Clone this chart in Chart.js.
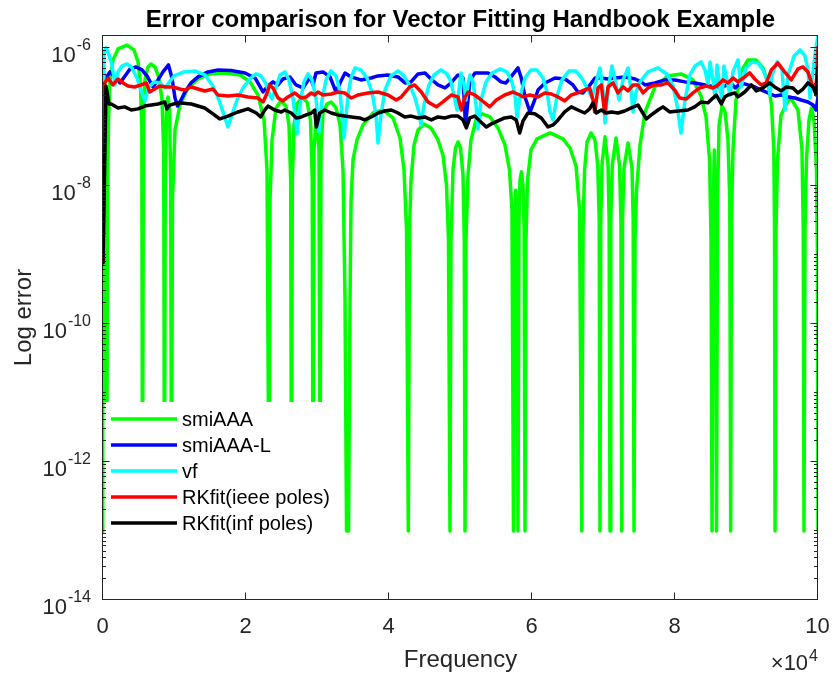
<!DOCTYPE html>
<html>
<head>
<meta charset="utf-8">
<title>Error comparison for Vector Fitting Handbook Example</title>
<script src="https://cdn.jsdelivr.net/npm/chart.js@4.4.1/dist/chart.umd.min.js"></script>
<style>
  body { margin: 0; background: #fff; }
  canvas { display: block; }
</style>
</head>
<body>
<canvas id="errors" width="833" height="674"></canvas>
<script>
// frequency (Hz) and error values, one pair of arrays per method
const smiFreq = [
  0, 100, 210, 320, 420, 520, 630, 770, 980, 1400, 2100, 3360, 4340, 4900, 5240, 5430, 5520,
  5660, 5870, 6290, 6710, 7270, 7830, 8250, 8490, 8600,
  8710, 8880, 9090, 9300, 9470, 9580,
  9720, 10070, 10770, 11890, 13290, 14960, 17060, 19160, 20560, 21680, 22520, 22940, 23220,
  23360, 23640, 24200, 24900, 25590, 26010, 26250, 26360,
  26480, 26710, 27130, 27830, 28530, 29020, 29270, 29370,
  29510, 29860, 30210, 30350,
  30490, 30770, 31330, 31890, 32590, 33150, 33570, 33850, 34060, 34340,
  34550, 34690, 34970, 35530, 36360, 37760, 39160, 40560, 41540, 42100, 42450, 42700,
  42870, 43080, 43500, 44060, 44890, 45870, 46850, 47550, 48040, 48320, 48530,
  48670, 48950, 49300, 49650, 50000, 50350, 50530, 50630,
  50770, 51050, 51470, 52170, 53010, 54130, 55240, 56220, 56850, 57200, 57410,
  57550, 57720, 57900, 58040,
  58180, 58320, 58530, 58740, 58900, 59020,
  59160, 59370, 59860, 60700, 62520, 64340, 65320, 66160, 66650, 66960,
  67140, 67350, 67700, 68260, 68810, 69190, 69400, 69510,
  69620, 69790, 70210, 70630, 70790, 70910,
  71020, 71230, 71750, 72240, 72440, 72550,
  72660, 72870, 73430, 73990, 74150, 74270,
  74410, 74620, 75110, 75810, 77200, 79020, 80840, 82520, 83640, 84340, 84830, 85040, 85180,
  85320, 85500, 85670, 85810,
  85950, 86160, 86580, 87000, 87410, 87660, 87790,
  87900, 88110, 88530, 89230, 90210, 91330, 92310, 93010, 93500, 93820, 93920, 93990,
  94130, 94340, 94830, 96080, 97200, 97760, 97940, 98040,
  98180, 98390, 98740, 99090, 99440, 99790, 99930, 100000
];
const smiErr = [
  1e-13, 6.3e-9, 1.26e-7, 2.63e-7, 1.26e-7, 1e-13, 6.3e-9, 9.05e-8, 3.44e-7, 6.7e-7, 9.67e-7, 1.1e-6, 9.35e-7, 6.27e-7, 2.91e-7, 6.48e-8, 1e-13,
  9.05e-8, 3.44e-7, 5.3e-7, 5.86e-7, 5.3e-7, 3.67e-7, 1.76e-7, 3.33e-8, 1e-13,
  1.22e-8, 1.26e-7, 1.95e-7, 1.35e-7, 1.22e-8, 1e-13,
  6.3e-9, 6.48e-8, 1.49e-7, 2.63e-7, 3.55e-7, 4.2e-7, 4.34e-7, 4.06e-7, 3.22e-7, 2.08e-7, 9.05e-8, 1.7e-8, 1e-13,
  6.3e-9, 4.64e-8, 1.35e-7, 1.71e-7, 1.44e-7, 7.66e-8, 1.22e-8, 1e-13,
  1.22e-8, 7.66e-8, 1.54e-7, 1.95e-7, 1.65e-7, 9.05e-8, 1.22e-8, 1e-13,
  3.33e-8, 1.07e-7, 3.33e-8, 1e-13,
  3.33e-8, 1.14e-7, 1.54e-7, 1.65e-7, 1.35e-7, 7.66e-8, 1.7e-8, 2.2e-10, 1e-13, 1e-13,
  2.2e-10, 6.3e-9, 2.4e-8, 4.64e-8, 7.66e-8, 1.14e-7, 1.26e-7, 9.67e-8, 4.96e-8, 1.7e-8, 2.3e-9, 1e-13,
  2.3e-9, 1.22e-8, 3.93e-8, 6.48e-8, 7.92e-8, 6.93e-8, 4.64e-8, 2.8e-8, 1.03e-8, 1.66e-9, 1e-13,
  1.66e-9, 1.7e-8, 3.55e-8, 4.34e-8, 3.55e-8, 1.44e-8, 1.66e-9, 1e-13,
  1.66e-9, 1.44e-8, 4.64e-8, 9.05e-8, 1.11e-7, 1.0e-7, 6.93e-8, 3.93e-8, 1.7e-8, 4.5e-9, 1e-13,
  2.3e-9, 8.7e-9, 2.3e-9, 1e-13,
  3.2e-9, 1.22e-8, 1.6e-8, 1.03e-8, 2.3e-9, 1e-13,
  1.66e-9, 1.22e-8, 3.33e-8, 4.8e-8, 5.86e-8, 4.8e-8, 3.55e-8, 1.95e-8, 4.5e-9, 1e-13,
  2.3e-9, 1.7e-8, 4.34e-8, 5.86e-8, 4.64e-8, 2.0e-8, 3.2e-9, 1e-13,
  3.2e-9, 2.0e-8, 5.15e-8, 2.0e-8, 3.2e-9, 1e-13,
  3.2e-9, 2.0e-8, 4.96e-8, 2.0e-8, 3.2e-9, 1e-13,
  3.2e-9, 1.82e-8, 4.2e-8, 1.82e-8, 3.2e-9, 1e-13,
  1.66e-9, 8.7e-9, 3.93e-8, 1.18e-7, 2.72e-7, 3.93e-7, 4.2e-7, 3.44e-7, 2.01e-7, 1.0e-7, 2.4e-8, 1.66e-9, 1e-13,
  3.2e-9, 3.33e-8, 3.2e-9, 1e-13,
  6.3e-9, 7.66e-8, 1.44e-7, 1.18e-7, 4.64e-8, 6.3e-9, 1e-13,
  3.2e-9, 3.33e-8, 1.76e-7, 4.49e-7, 6.7e-7, 6.7e-7, 5.13e-7, 3.11e-7, 1.49e-7, 3.33e-8, 2.3e-9, 1e-13,
  2.3e-9, 2.4e-8, 1.07e-7, 1.95e-7, 1.26e-7, 3.33e-8, 2.3e-9, 1e-13,
  2.3e-9, 2.4e-8, 9.05e-8, 1.35e-7, 9.05e-8, 1.7e-8, 8.5e-10, 1e-13
];

const smiLFreq = [
  0, 420, 980, 1680, 2380, 3080, 3780, 4620, 5450, 6150,
  6990, 7690, 8390, 9160, 9650, 10070, 10420, 10910, 11470, 12310,
  13290, 14690, 16080, 17900, 19860, 21260, 22380, 23080, 23780, 24480,
  25170, 26150, 26990, 27970, 28950, 29370, 29790, 30770, 31750, 32590,
  33150, 33850, 34680, 36080, 37480, 38460, 39860, 41260, 42240, 43080,
  44060, 45040, 45870, 46850, 47830, 48670, 49650, 50350, 50700, 51330,
  52030, 52870, 53850, 54830, 55660, 56360, 57060, 58040, 58460, 59020,
  59720, 60280, 60840, 61820, 63220, 64620, 65730, 66430, 67130, 68110,
  68810, 69650, 70630, 71610, 73010, 74410, 75250, 75810, 77200, 78600,
  80000, 81400, 82800, 84200, 85600, 87000, 87840, 88400, 89230, 90210,
  91190, 92030, 93010, 93990, 94830, 95810, 96790, 97630, 98610, 99310,
  99730, 100000
];
const smiLErr = [
  4.34e-7, 3.67e-7, 4.49e-7, 3.8e-7, 3.11e-7, 3.93e-7, 4.96e-7, 5.3e-7, 4.8e-7, 3.93e-7,
  2.72e-7, 3.44e-7, 4.49e-7, 5.67e-7, 3.67e-7, 1.88e-7, 1.44e-7, 1.76e-7, 2.3e-7, 3.11e-7,
  3.8e-7, 4.49e-7, 4.8e-7, 4.72e-7, 4.34e-7, 3.67e-7, 2.3e-7, 2.81e-7, 3.22e-7, 2.91e-7,
  3.55e-7, 3.8e-7, 2.91e-7, 2.63e-7, 3.8e-7, 2.91e-7, 4.34e-7, 4.49e-7, 3.8e-7, 2.3e-7,
  3.11e-7, 4.34e-7, 3.8e-7, 3.44e-7, 3.67e-7, 3.93e-7, 4.06e-7, 3.8e-7, 3.11e-7, 3.22e-7,
  4.2e-7, 4.34e-7, 3.55e-7, 2.91e-7, 2.63e-7, 3.11e-7, 4.06e-7, 3.67e-7, 7.66e-8, 3.44e-7,
  4.34e-7, 4.34e-7, 4.34e-7, 3.8e-7, 3.22e-7, 3.11e-7, 3.8e-7, 5.13e-7, 3.8e-7, 1.95e-7,
  1.18e-7, 1.65e-7, 2.46e-7, 3.11e-7, 3.67e-7, 3.55e-7, 2.91e-7, 2.3e-7, 2.23e-7, 2.91e-7,
  3.67e-7, 3.67e-7, 3.55e-7, 3.67e-7, 3.8e-7, 3.55e-7, 3.22e-7, 2.91e-7, 3.11e-7, 3.44e-7,
  3.44e-7, 3.22e-7, 3.11e-7, 2.91e-7, 2.72e-7, 2.81e-7, 3.11e-7, 2.63e-7, 3.11e-7, 2.91e-7,
  2.72e-7, 2.46e-7, 2.23e-7, 2.01e-7, 2.08e-7, 1.95e-7, 1.88e-7, 1.76e-7, 1.65e-7, 1.49e-7,
  1.26e-7, 1.95e-7
];

const vfFreq = [
  0, 140, 420, 840, 1260, 1680, 2100, 2660, 3360, 4060,
  4760, 5310, 5870, 6430, 7130, 7970, 8670, 9090, 9930, 11330,
  12870, 14270, 15380, 16220, 16920, 17480, 18040, 18740, 19580, 20700,
  21400, 22100, 22800, 23360, 23640, 24060, 24760, 25450, 26010, 26570,
  27130, 27690, 28110, 28670, 29230, 29790, 30210, 30630, 31190, 31890,
  32590, 33150, 33710, 34270, 34680, 35240, 36080, 36920, 37620, 38180,
  38460, 38880, 39440, 40280, 41260, 42100, 42940, 43640, 44200, 44480,
  44890, 45590, 46290, 47270, 48110, 48670, 49230, 49510, 49790, 50070,
  50490, 50770, 51050, 51330, 51750, 52170, 52450, 52870, 53570, 54410,
  55520, 56500, 57200, 57620, 57900, 58320, 59020, 59860, 60700, 61540,
  62100, 62520, 62940, 63500, 64190, 65170, 66150, 67130, 67830, 68390,
  68950, 69510, 69930, 70210, 70630, 71190, 71750, 72170, 72730, 73430,
  73850, 74130, 74550, 75110, 76220, 77620, 78880, 79720, 80280, 80840,
  81400, 82100, 82800, 83640, 84200, 84620, 84900, 85310, 85600, 85880,
  86290, 86570, 86850, 87270, 87690, 88110, 88810, 89230, 89930, 90770,
  91610, 92310, 92870, 93290, 93570, 94270, 94970, 95390, 95810, 96650,
  97480, 98180, 98600, 98880, 99160, 99580, 100000
];
const vfErr = [
  7.7e-10, 8.75e-7, 1.0e-6, 7.9e-7, 5.67e-7, 2.91e-7, 4.49e-7, 5.48e-7, 5.86e-7, 5.13e-7,
  3.67e-7, 2.46e-7, 1.71e-7, 2.72e-7, 3.22e-7, 3.11e-7, 2.63e-7, 3.01e-7, 3.93e-7, 4.49e-7,
  4.64e-7, 4.06e-7, 2.81e-7, 1.76e-7, 1.07e-7, 7.16e-8, 1.07e-7, 1.76e-7, 2.63e-7, 3.67e-7,
  4.2e-7, 3.93e-7, 3.01e-7, 2.01e-7, 1.82e-7, 2.46e-7, 4.06e-7, 4.49e-7, 3.44e-7, 1.88e-7,
  5.67e-8, 1.88e-7, 3.22e-7, 4.2e-7, 3.44e-7, 1.88e-7, 6.06e-8, 1.76e-7, 3.44e-7, 4.64e-7,
  3.93e-7, 2.3e-7, 4.96e-8, 2.08e-7, 3.67e-7, 5.13e-7, 4.8e-7, 3.67e-7, 2.3e-7, 1.07e-7,
  4.2e-8, 1.07e-7, 2.46e-7, 3.93e-7, 4.64e-7, 3.93e-7, 2.81e-7, 1.88e-7, 1.14e-7, 7.66e-8,
  1.49e-7, 2.91e-7, 4.06e-7, 4.8e-7, 4.2e-7, 3.22e-7, 1.76e-7, 1.26e-7, 2.46e-7, 4.34e-7,
  2.91e-7, 1.76e-7, 2.91e-7, 4.06e-7, 3.22e-7, 1.49e-7, 6.7e-8, 1.76e-7, 3.22e-7, 4.34e-7,
  4.96e-7, 4.49e-7, 3.22e-7, 2.08e-7, 9.67e-8, 1.95e-7, 3.67e-7, 4.8e-7, 4.8e-7, 3.67e-7,
  2.3e-7, 1.18e-7, 9.05e-8, 2.01e-7, 3.44e-7, 4.64e-7, 4.64e-7, 3.44e-7, 2.46e-7, 1.88e-7,
  3.22e-7, 5.13e-7, 2.46e-7, 8.19e-8, 2.46e-7, 5.48e-7, 2.91e-7, 1.76e-7, 3.44e-7, 5.13e-7,
  2.46e-7, 1.18e-7, 2.3e-7, 3.22e-7, 4.49e-7, 5.13e-7, 4.2e-7, 2.81e-7, 1.49e-7, 5.86e-8,
  1.76e-7, 4.06e-7, 5.48e-7, 6.27e-7, 4.8e-7, 2.91e-7, 6.27e-7, 3.44e-7, 1.88e-7, 5.67e-7,
  2.63e-7, 1.76e-7, 5.48e-7, 3.44e-7, 2.08e-7, 4.49e-7, 6.7e-7, 2.72e-7, 5.13e-7, 6.27e-7,
  6.06e-7, 4.8e-7, 3.44e-7, 2.08e-7, 4.06e-7, 6.27e-7, 4.8e-7, 1.26e-7, 4.06e-7, 7.66e-7,
  9.35e-7, 7.66e-7, 4.8e-7, 1.88e-7, 3.44e-7, 7.9e-7, 1.54e-6
];

const ieeeFreq = [
  0, 240, 700, 1400, 2100, 2800, 3500, 4430, 5360, 6060,
  6530, 7230, 7930, 8850, 9790, 10730, 11430, 12350, 13290, 14220,
  15380, 16080, 17480, 18880, 20280, 21680, 22380, 22840, 23310, 23780,
  24480, 25170, 25870, 26810, 27730, 28430, 29130, 29610, 30070, 30770,
  31930, 32870, 33800, 34730, 35660, 37060, 38460, 39860, 41020, 41720,
  42900, 43590, 44520, 45450, 46620, 47550, 48710, 49650, 50110, 50590,
  51050, 51990, 52910, 54080, 55010, 56180, 57340, 58280, 58740, 59680,
  60840, 61780, 62700, 63640, 64570, 65500, 66430, 67370, 68060, 68530,
  68770, 69230, 69690, 70170, 70630, 71330, 72030, 72730, 73430, 74130,
  74820, 75520, 76220, 77160, 78080, 79020, 79950, 80660, 81580, 82520,
  83450, 84380, 85310, 86010, 86710, 87410, 88110, 88810, 89750, 90450,
  91150, 92070, 92770, 93470, 94400, 95340, 96260, 97200, 97900, 98600,
  99300, 99760, 100000
];
const ieeeErr = [
  7.7e-10, 3.11e-7, 3.67e-7, 2.91e-7, 3.55e-7, 3.11e-7, 2.81e-7, 2.72e-7, 2.91e-7, 3.11e-7,
  2.3e-7, 2.54e-7, 2.81e-7, 2.72e-7, 2.72e-7, 2.54e-7, 2.46e-7, 2.72e-7, 2.54e-7, 2.38e-7,
  2.54e-7, 2.08e-7, 2.01e-7, 2.08e-7, 1.95e-7, 1.88e-7, 1.65e-7, 2.08e-7, 2.91e-7, 2.63e-7,
  1.88e-7, 1.71e-7, 1.95e-7, 2.23e-7, 1.88e-7, 1.95e-7, 2.23e-7, 2.08e-7, 2.3e-7, 2.08e-7,
  2.15e-7, 2.3e-7, 2.23e-7, 1.88e-7, 2.08e-7, 2.23e-7, 2.3e-7, 2.08e-7, 1.76e-7, 1.95e-7,
  2.72e-7, 2.91e-7, 2.3e-7, 1.65e-7, 1.4e-7, 1.65e-7, 2.08e-7, 1.95e-7, 1.26e-7, 1.88e-7,
  2.3e-7, 2.08e-7, 1.76e-7, 1.4e-7, 1.76e-7, 2.08e-7, 2.3e-7, 2.08e-7, 1.95e-7, 2.08e-7,
  1.95e-7, 2.23e-7, 2.15e-7, 1.95e-7, 1.71e-7, 2.08e-7, 2.23e-7, 2.46e-7, 2.63e-7, 1.76e-7,
  1.18e-7, 2.63e-7, 2.91e-7, 1.14e-7, 2.72e-7, 3.11e-7, 2.23e-7, 2.72e-7, 2.38e-7, 2.91e-7,
  2.91e-7, 2.23e-7, 2.63e-7, 2.91e-7, 2.91e-7, 3.11e-7, 2.46e-7, 1.88e-7, 1.82e-7, 2.23e-7,
  2.63e-7, 2.81e-7, 2.63e-7, 2.91e-7, 3.44e-7, 3.11e-7, 3.67e-7, 3.22e-7, 3.8e-7, 4.34e-7,
  3.55e-7, 2.91e-7, 3.11e-7, 4.8e-7, 6.06e-7, 4.49e-7, 3.44e-7, 4.96e-7, 5.3e-7, 4.49e-7,
  2.72e-7, 2.91e-7, 1.03e-6
];

const infFreq = [
  0, 420, 840, 1160, 2100, 3030, 3960, 4900, 5830, 6760,
  7690, 8630, 8950, 9330, 10490, 12350, 14220, 15380, 16320, 17480,
  18880, 20280, 21440, 22060, 22610, 23080, 24010, 24940, 25410, 26330,
  27030, 27730, 28430, 29130, 29610, 29830, 30310, 31010, 31930, 32870,
  33800, 34730, 35900, 36600, 37520, 38460, 39390, 40320, 41260, 42200,
  43120, 44060, 44990, 45920, 46850, 47790, 48710, 49650, 50350, 50810,
  51290, 51990, 52690, 53610, 54310, 55240, 56180, 57100, 57800, 58280,
  58740, 59440, 60380, 61300, 62240, 62940, 63640, 64570, 65500, 66430,
  67370, 68060, 68530, 68990, 69690, 70390, 71090, 72030, 72960, 73890,
  74820, 75990, 76690, 77620, 78320, 79250, 80420, 81820, 82750, 83680,
  84620, 85310, 85780, 86480, 86950, 87410, 88350, 88810, 89750, 90670,
  91370, 92310, 93240, 93940, 94870, 95570, 96500, 97200, 97900, 98600,
  99300, 99760, 100000
];
const infErr = [
  7.7e-10, 2.8e-7, 1.54e-7, 1.54e-7, 1.35e-7, 1.4e-7, 1.26e-7, 1.31e-7, 1.44e-7, 1.49e-7,
  1.54e-7, 1.65e-7, 1.31e-7, 1.49e-7, 1.6e-7, 1.54e-7, 1.35e-7, 1.11e-7, 9.35e-8, 1.03e-7,
  1.18e-7, 1.31e-7, 1.14e-7, 1.0e-7, 1.26e-7, 1.44e-7, 1.26e-7, 1.18e-7, 1.26e-7, 1.14e-7,
  9.67e-8, 1.0e-7, 1.07e-7, 1.14e-7, 1.26e-7, 7.16e-8, 1.14e-7, 1.26e-7, 1.14e-7, 1.07e-7,
  1.03e-7, 1.0e-7, 9.67e-8, 9.05e-8, 1.0e-7, 1.14e-7, 1.22e-7, 1.26e-7, 1.14e-7, 1.0e-7,
  1.03e-7, 9.67e-8, 1.0e-7, 9.05e-8, 1.0e-7, 9.67e-8, 1.03e-7, 1.03e-7, 9.05e-8, 6.93e-8,
  9.67e-8, 1.03e-7, 8.75e-8, 7.16e-8, 7.92e-8, 8.75e-8, 9.67e-8, 1.0e-7, 9.05e-8, 5.86e-8,
  8.75e-8, 1.14e-7, 1.11e-7, 9.67e-8, 7.16e-8, 7.66e-8, 9.05e-8, 1.18e-7, 1.4e-7, 1.26e-7,
  1.14e-7, 1.31e-7, 1.6e-7, 1.14e-7, 1.26e-7, 1.14e-7, 1.18e-7, 1.14e-7, 1.22e-7, 1.35e-7,
  1.49e-7, 9.35e-8, 1.07e-7, 1.26e-7, 1.4e-7, 1.18e-7, 1.22e-7, 1.26e-7, 1.4e-7, 1.65e-7,
  1.6e-7, 1.88e-7, 2.08e-7, 1.54e-7, 1.95e-7, 2.08e-7, 2.23e-7, 1.95e-7, 2.3e-7, 2.91e-7,
  2.38e-7, 2.63e-7, 3.11e-7, 2.72e-7, 2.38e-7, 2.72e-7, 2.63e-7, 2.23e-7, 2.54e-7, 3.11e-7,
  2.72e-7, 2.08e-7, 5.3e-7
];

const seriesLabels = ['smiAAA', 'smiAAA-L', 'vf', 'RKfit(ieee poles)', 'RKfit(inf poles)'];
const seriesColors = ['#00ff00', '#0000ff', '#00ffff', '#ff0000', '#000000'];
const xTicks = [0, 20000, 40000, 60000, 80000, 100000];
const yTickExps = [-14, -12, -10, -8, -6];
const yMin = 1e-14;
const yMax = 1.54e-6;

const FONT = '"Liberation Sans", Arial, Helvetica, sans-serif';
const AXIS_COLOR = '#262626';

const freqs = [smiFreq, smiLFreq, vfFreq, ieeeFreq, infFreq];
const errs = [smiErr, smiLErr, vfErr, ieeeErr, infErr];
freqs.forEach((f, i) => {
  if (f.length !== errs[i].length) {
    throw new Error(seriesLabels[i] + ': ' + f.length + ' freqs vs ' + errs[i].length + ' errors');
  }
});

const datasets = seriesLabels.map((label, i) => ({
  label,
  data: freqs[i].map((f, k) => ({ x: f, y: errs[i][k] })),
  borderColor: seriesColors[i],
  backgroundColor: seriesColors[i],
  borderWidth: 3.5,
  pointRadius: 0,
  tension: 0,
  fill: false,
  borderJoinStyle: 'round',
  borderCapStyle: 'round',
  // later series sit on top, like successive plot calls
  order: seriesLabels.length - i
}));

// matlab-like decorations: white legend box, boxed axes with inward ticks, labels
const matlabAxes = {
  id: 'matlabAxes',
  afterDatasetsDraw(chart) {
    const { ctx, chartArea: a, scales: { x, y } } = chart;
    const line = (x1, y1, x2, y2) => {
      ctx.beginPath();
      ctx.moveTo(x1, y1);
      ctx.lineTo(x2, y2);
      ctx.stroke();
    };
    ctx.save();

    // legend
    ctx.fillStyle = '#ffffff';
    ctx.fillRect(104.5, 402, 229, 140);
    ctx.font = '20px ' + FONT;
    ctx.textAlign = 'left';
    ctx.textBaseline = 'middle';
    chart.data.datasets.forEach((ds, i) => {
      const ly = 419 + i * 26;
      ctx.strokeStyle = ds.borderColor;
      ctx.lineWidth = 3.5;
      ctx.lineCap = 'butt';
      line(111, ly, 177, ly);
      ctx.fillStyle = '#000000';
      ctx.fillText(ds.label, 182, ly + 1);
    });

    // axes box
    ctx.strokeStyle = AXIS_COLOR;
    ctx.lineWidth = 1;
    const L = a.left - 0.5, R = a.right - 0.5, T = a.top + 0.5, B = a.bottom - 0.5;
    ctx.strokeRect(L, T, R - L, B - T);

    // x ticks, bottom and top, pointing inward
    ctx.fillStyle = AXIS_COLOR;
    ctx.textBaseline = 'alphabetic';
    ctx.textAlign = 'center';
    ctx.font = '22px ' + FONT;
    xTicks.forEach(v => {
      const px = Math.round(x.getPixelForValue(v)) - 0.5;
      line(px, B, px, B - 7);
      line(px, T, px, T + 7);
      ctx.fillText(String(v / 1e4), px, 633);
    });

    // y ticks: decades plus log minor ticks
    for (let e = -14; e <= -6; e++) {
      for (let m = 1; m <= 9; m++) {
        const v = m * Math.pow(10, e);
        if (v > yMax) continue;
        const py = Math.round(y.getPixelForValue(v)) - 0.5;
        const len = (m === 1 && yTickExps.includes(e)) ? 7 : 3.5;
        line(L, py, L + len, py);
        line(R, py, R - len, py);
      }
    }

    // y tick labels 10^e
    ctx.textAlign = 'left';
    yTickExps.forEach(e => {
      const py = y.getPixelForValue(Math.pow(10, e));
      ctx.font = '22px ' + FONT;
      const wBase = ctx.measureText('10').width;
      ctx.font = '16px ' + FONT;
      const sup = String(e);
      const wSup = ctx.measureText(sup).width;
      const x0 = 91 - wSup - wBase - 1;
      ctx.font = '22px ' + FONT;
      ctx.fillText('10', x0, py + 14);
      ctx.font = '16px ' + FONT;
      ctx.fillText(sup, x0 + wBase + 1, py + 2);
    });

    // x10^4 multiplier
    ctx.font = '16px ' + FONT;
    const w4 = ctx.measureText('4').width;
    ctx.font = '22px ' + FONT;
    const wMul = ctx.measureText('\u00d710').width;
    ctx.fillText('\u00d710', 818 - w4 - wMul - 1, 670);
    ctx.font = '16px ' + FONT;
    ctx.fillText('4', 818 - w4, 661);

    // axis titles
    ctx.font = '24px ' + FONT;
    ctx.textAlign = 'center';
    ctx.fillText('Frequency', (a.left + a.right) / 2, 667);
    ctx.save();
    ctx.translate(31, (a.top + a.bottom) / 2);
    ctx.rotate(-Math.PI / 2);
    ctx.fillText('Log error', 0, 0);
    ctx.restore();

    // title
    ctx.fillStyle = '#000000';
    ctx.font = 'bold 24px ' + FONT;
    ctx.fillText('Error comparison for Vector Fitting Handbook Example', (a.left + a.right) / 2, 27);

    ctx.restore();
  }
};

new Chart(document.getElementById('errors'), {
  type: 'line',
  data: { datasets },
  options: {
    responsive: false,
    animation: false,
    devicePixelRatio: 1,
    layout: { padding: { left: 103, top: 35, right: 15, bottom: 74 } },
    plugins: {
      legend: { display: false },
      title: { display: false },
      tooltip: { enabled: false }
    },
    scales: {
      x: { type: 'linear', display: false, min: 0, max: 100000 },
      y: { type: 'logarithmic', display: false, min: yMin, max: yMax }
    }
  },
  plugins: [matlabAxes]
});
</script>
</body>
</html>
